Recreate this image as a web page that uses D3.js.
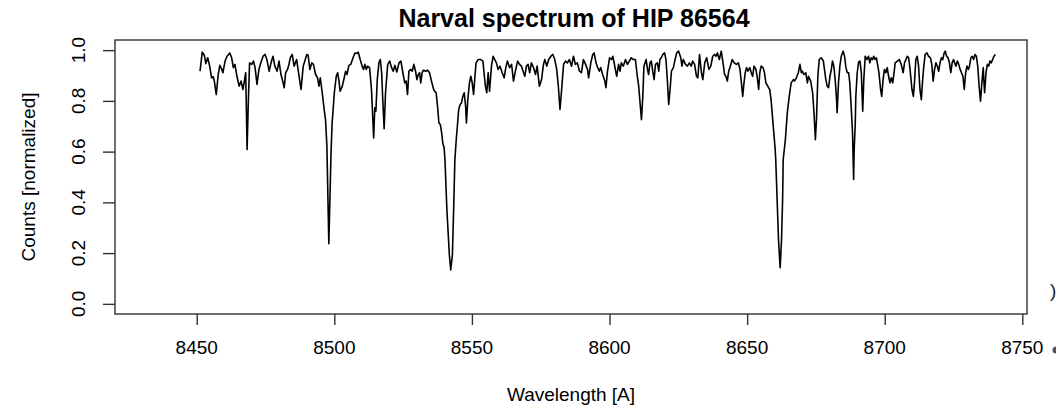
<!DOCTYPE html>
<html>
<head>
<meta charset="utf-8">
<script src="https://cdn.jsdelivr.net/npm/d3@7"></script>
<style>
  html, body { margin: 0; padding: 0; background: #fff; }
  svg text { font-family: "Liberation Sans", Arial, Helvetica, sans-serif; fill: #000; }
</style>
</head>
<body>
<div id="chart-container"></div>
<script>
/**************************************************
 * Spectrum data
 **************************************************/

const chartTitle = "Narval spectrum of HIP 86564";
const xLabel = "Wavelength [A]";
const yLabel = "Counts [normalized]";

const xTicks = [8450, 8500, 8550, 8600, 8650, 8700, 8750];
const yTicks = [0, 0.2, 0.4, 0.6, 0.8, 1.0];
const yTickLabels = ["0.0", "0.2", "0.4", "0.6", "0.8", "1.0"];

// wavelength in Angstrom
const wavelength = [
  8451.2, 8452.0, 8452.8, 8453.3, 8454.0, 8454.7, 8455.4, 8456.0, 8456.4, 8457.1,
  8457.8, 8458.4, 8459.1, 8459.5, 8460.3, 8461.0, 8462.0, 8462.7, 8463.3, 8463.9,
  8464.6, 8465.4, 8466.1, 8466.8, 8467.3, 8467.8, 8468.3, 8468.7, 8469.2, 8470.0,
  8470.6, 8471.2, 8471.9, 8472.6, 8473.3, 8474.1, 8474.8, 8475.5, 8476.3, 8477.0,
  8477.7, 8478.4, 8479.2, 8479.9, 8480.6, 8481.1, 8481.8, 8482.3, 8483.0, 8483.5,
  8484.0, 8484.7, 8485.4, 8486.3, 8487.9, 8488.7, 8490.0, 8490.5, 8491.1, 8491.8,
  8492.4, 8493.2, 8493.9, 8494.4, 8494.9, 8495.6, 8496.3, 8496.8, 8497.3, 8498.0,
  8498.8, 8499.2, 8500.0, 8500.7, 8501.2, 8501.7, 8502.1, 8502.9, 8503.6, 8504.1,
  8504.6, 8505.3, 8506.0, 8506.8, 8507.5, 8508.2, 8508.7, 8509.4, 8510.1, 8510.6,
  8511.1, 8511.6, 8512.1, 8512.8, 8513.5, 8514.3, 8514.7, 8515.1, 8515.6, 8516.2,
  8516.7, 8517.2, 8517.6, 8518.1, 8518.6, 8519.4, 8520.1, 8520.8, 8521.4, 8522.0,
  8522.7, 8523.5, 8524.2, 8524.9, 8525.6, 8526.1, 8526.6, 8527.1, 8527.8, 8528.3,
  8528.9, 8529.5, 8530.0, 8530.5, 8531.0, 8531.4, 8531.9, 8532.4, 8533.2, 8533.9,
  8534.6, 8535.3, 8536.1, 8536.5, 8537.0, 8537.5, 8538.0, 8538.5, 8539.0, 8539.4,
  8539.9, 8540.2, 8540.9, 8541.8, 8542.3, 8542.9, 8543.4, 8543.8, 8544.3, 8544.8,
  8545.2, 8545.7, 8546.2, 8546.7, 8547.2, 8547.7, 8548.0, 8548.5, 8549.1, 8549.6,
  8550.1, 8550.6, 8551.1, 8551.5, 8552.3, 8553.2, 8554.0, 8554.4, 8554.9, 8555.4,
  8555.9, 8556.4, 8557.1, 8557.7, 8558.3, 8558.9, 8559.5, 8560.2, 8561.0, 8561.7,
  8562.3, 8562.9, 8563.7, 8564.4, 8565.1, 8565.8, 8566.6, 8567.3, 8568.0, 8568.6,
  8569.2, 8569.8, 8570.4, 8571.0, 8571.6, 8572.4, 8573.1, 8573.7, 8574.5, 8575.3,
  8576.0, 8576.5, 8577.2, 8577.9, 8578.7, 8579.4, 8580.1, 8580.8, 8581.4, 8582.0,
  8582.6, 8583.3, 8584.0, 8584.7, 8585.4, 8586.2, 8586.9, 8587.6, 8588.3, 8589.1,
  8589.8, 8590.5, 8591.3, 8592.0, 8592.4, 8593.2, 8593.9, 8594.4, 8595.1, 8595.7,
  8596.3, 8596.8, 8597.5, 8598.3, 8598.7, 8599.2, 8600.0, 8600.7, 8601.2, 8601.9,
  8602.6, 8603.3, 8603.8, 8604.3, 8605.0, 8605.8, 8606.5, 8607.2, 8607.9, 8608.7,
  8609.4, 8610.1, 8610.6, 8611.2, 8611.6, 8612.1, 8612.5, 8613.3, 8613.8, 8614.2,
  8614.7, 8615.2, 8615.7, 8616.2, 8616.7, 8617.4, 8617.9, 8618.3, 8618.8, 8619.4,
  8620.0, 8620.5, 8621.0, 8621.5, 8622.0, 8622.5, 8623.2, 8623.7, 8624.4, 8625.1,
  8625.9, 8626.3, 8626.8, 8627.6, 8628.3, 8629.0, 8629.7, 8630.2, 8630.9, 8631.6,
  8632.1, 8632.7, 8633.4, 8633.9, 8634.6, 8635.3, 8636.1, 8636.8, 8637.5, 8638.2,
  8638.7, 8639.2, 8639.9, 8640.6, 8641.4, 8641.8, 8642.3, 8642.8, 8643.3, 8643.9,
  8644.6, 8645.3, 8646.1, 8646.8, 8647.4, 8647.8, 8648.4, 8648.8, 8649.3, 8649.8,
  8650.3, 8651.0, 8651.5, 8652.0, 8652.5, 8653.2, 8653.7, 8654.2, 8654.6, 8655.1,
  8655.8, 8656.3, 8656.8, 8657.5, 8658.2, 8658.7, 8659.2, 8659.7, 8660.2, 8660.4,
  8660.9, 8661.4, 8662.0, 8662.5, 8662.9, 8663.1, 8663.9, 8664.6, 8665.3, 8666.0,
  8666.8, 8667.2, 8667.9, 8668.6, 8669.2, 8669.7, 8670.1, 8670.6, 8671.3, 8671.9,
  8672.3, 8673.1, 8673.8, 8674.3, 8674.8, 8675.2, 8675.7, 8676.2, 8676.9, 8677.7,
  8678.1, 8678.6, 8679.1, 8679.6, 8680.1, 8680.6, 8681.0, 8681.5, 8682.0, 8682.5,
  8682.7, 8683.2, 8683.7, 8684.2, 8684.9, 8685.4, 8685.9, 8686.4, 8686.9, 8687.3,
  8687.8, 8688.3, 8688.7, 8688.9, 8689.3, 8689.5, 8690.0, 8690.5, 8691.0, 8691.5,
  8692.0, 8692.4, 8692.9, 8693.6, 8694.1, 8694.6, 8695.1, 8695.6, 8696.0, 8696.5,
  8697.0, 8697.5, 8697.9, 8698.5, 8698.9, 8699.4, 8699.9, 8700.4, 8700.9, 8701.4,
  8701.9, 8702.4, 8702.9, 8703.4, 8703.8, 8704.6, 8705.3, 8706.0, 8706.7, 8707.2,
  8708.2, 8708.7, 8709.2, 8709.9, 8710.4, 8710.8, 8711.3, 8711.8, 8712.3, 8712.8,
  8713.3, 8713.7, 8714.2, 8714.7, 8715.4, 8715.9, 8716.6, 8717.1, 8717.6, 8718.1,
  8718.6, 8719.1, 8719.6, 8720.1, 8720.6, 8721.1, 8721.6, 8722.0, 8722.5, 8723.0,
  8723.5, 8724.0, 8724.5, 8725.0, 8725.4, 8725.9, 8726.4, 8726.9, 8727.4, 8727.9,
  8728.4, 8728.9, 8729.4, 8729.9, 8730.4, 8730.8, 8731.3, 8731.8, 8732.3, 8732.8,
  8733.3, 8733.8, 8734.3, 8734.8, 8735.3, 8735.8, 8736.0, 8736.3, 8736.8, 8737.3,
  8737.8, 8738.2, 8738.7, 8739.2, 8739.7, 8740.2
];

// normalized counts, one per wavelength
const counts = [
  0.917, 0.992, 0.979, 0.947, 0.970, 0.937, 0.891, 0.895, 0.878, 0.825,
  0.904, 0.940, 0.924, 0.911, 0.957, 0.976, 0.989, 0.970, 0.931, 0.944,
  0.897, 0.858, 0.878, 0.845, 0.878, 0.911, 0.608, 0.779, 0.950, 0.944,
  0.957, 0.931, 0.865, 0.924, 0.950, 0.976, 0.983, 0.963, 0.917, 0.950,
  0.976, 0.937, 0.917, 0.957, 0.904, 0.884, 0.852, 0.911, 0.924, 0.944,
  0.970, 0.983, 0.937, 0.963, 0.845, 0.937, 0.983, 0.979, 0.924, 0.950,
  0.944, 0.904, 0.891, 0.858, 0.891, 0.832, 0.766, 0.726, 0.621, 0.237,
  0.596, 0.713, 0.832, 0.897, 0.911, 0.878, 0.838, 0.858, 0.891, 0.917,
  0.904, 0.940, 0.944, 0.970, 0.989, 0.987, 0.992, 0.963, 0.937, 0.924,
  0.944, 0.924, 0.937, 0.931, 0.845, 0.654, 0.773, 0.759, 0.884, 0.950,
  0.963, 0.911, 0.805, 0.690, 0.832, 0.944, 0.957, 0.931, 0.917, 0.940,
  0.914, 0.950, 0.957, 0.911, 0.871, 0.878, 0.825, 0.917, 0.924, 0.917,
  0.944, 0.917, 0.884, 0.904, 0.911, 0.871, 0.911, 0.921, 0.917, 0.921,
  0.911, 0.878, 0.845, 0.838, 0.832, 0.779, 0.713, 0.707, 0.674, 0.634,
  0.615, 0.568, 0.371, 0.193, 0.134, 0.193, 0.391, 0.568, 0.647, 0.713,
  0.766, 0.786, 0.792, 0.818, 0.832, 0.779, 0.713, 0.805, 0.871, 0.897,
  0.871, 0.825, 0.897, 0.950, 0.963, 0.963, 0.957, 0.911, 0.858, 0.832,
  0.911, 0.838, 0.937, 0.976, 0.963, 0.950, 0.924, 0.937, 0.911, 0.891,
  0.931, 0.957, 0.931, 0.944, 0.878, 0.917, 0.957, 0.944, 0.937, 0.917,
  0.897, 0.937, 0.944, 0.911, 0.950, 0.931, 0.904, 0.937, 0.858, 0.884,
  0.944, 0.963, 0.937, 0.963, 0.976, 0.983, 0.963, 0.924, 0.858, 0.766,
  0.845, 0.944, 0.957, 0.950, 0.963, 0.937, 0.976, 0.944, 0.950, 0.917,
  0.911, 0.963, 0.944, 0.924, 0.891, 0.950, 0.983, 0.989, 0.950, 0.931,
  0.917, 0.931, 0.904, 0.878, 0.852, 0.911, 0.970, 0.963, 0.976, 0.937,
  0.897, 0.944, 0.917, 0.950, 0.937, 0.963, 0.944, 0.957, 0.970, 0.963,
  0.963, 0.897, 0.858, 0.779, 0.726, 0.818, 0.937, 0.963, 0.924, 0.904,
  0.950, 0.957, 0.917, 0.884, 0.944, 0.950, 0.917, 0.963, 0.970, 0.983,
  0.989, 0.963, 0.884, 0.786, 0.845, 0.917, 0.931, 0.957, 0.989, 0.996,
  0.970, 0.937, 0.963, 0.944, 0.937, 0.950, 0.937, 0.957, 0.944, 0.897,
  0.891, 0.983, 0.911, 0.884, 0.950, 0.970, 0.924, 0.937, 0.976, 0.983,
  0.976, 0.989, 0.963, 0.996, 0.937, 0.904, 0.897, 0.878, 0.917, 0.937,
  0.963, 0.950, 0.944, 0.950, 0.924, 0.884, 0.818, 0.865, 0.911, 0.931,
  0.917, 0.931, 0.911, 0.897, 0.937, 0.924, 0.891, 0.845, 0.911, 0.937,
  0.931, 0.911, 0.871, 0.858, 0.845, 0.805, 0.739, 0.674, 0.608, 0.568,
  0.411, 0.253, 0.142, 0.253, 0.411, 0.568, 0.647, 0.753, 0.818, 0.871,
  0.884, 0.878, 0.891, 0.911, 0.944, 0.911, 0.917, 0.904, 0.911, 0.871,
  0.897, 0.878, 0.832, 0.753, 0.647, 0.726, 0.897, 0.963, 0.970, 0.957,
  0.924, 0.884, 0.858, 0.852, 0.897, 0.924, 0.957, 0.937, 0.884, 0.805,
  0.753, 0.871, 0.937, 0.976, 0.996, 0.976, 0.931, 0.911, 0.911, 0.871,
  0.779, 0.674, 0.490, 0.608, 0.713, 0.818, 0.911, 0.953, 0.957, 0.911,
  0.759, 0.884, 0.976, 0.963, 0.976, 0.950, 0.970, 0.963, 0.976, 0.963,
  0.970, 0.937, 0.911, 0.845, 0.818, 0.884, 0.924, 0.911, 0.931, 0.897,
  0.871, 0.891, 0.871, 0.911, 0.950, 0.957, 0.963, 0.944, 0.911, 0.950,
  0.976, 0.970, 0.924, 0.845, 0.818, 0.871, 0.963, 0.976, 0.937, 0.845,
  0.805, 0.871, 0.937, 0.983, 0.989, 0.976, 0.970, 0.944, 0.878, 0.924,
  0.950, 0.937, 0.917, 0.950, 0.970, 0.963, 0.989, 0.996, 0.976, 0.970,
  0.950, 0.911, 0.950, 0.963, 0.950, 0.937, 0.957, 0.944, 0.924, 0.911,
  0.897, 0.845, 0.911, 0.937, 0.924, 0.937, 0.970, 0.976, 0.963, 0.983,
  0.976, 0.937, 0.858, 0.799, 0.871, 0.931, 0.884, 0.832, 0.911, 0.944,
  0.937, 0.957, 0.950, 0.963, 0.976, 0.983
];

/**************************************************
 * Rendering
 **************************************************/

const width = 1064, height = 412;
const box = { left: 115, right: 1027, top: 40, bottom: 314 };

function renderSpectrum() {
  const svg = d3.select("#chart-container")
    .append("svg")
    .attr("width", width)
    .attr("height", height);

  const data = wavelength.map((w, i) => ({ w: w, c: counts[i] }));

  const xScale = d3.scaleLinear()
    .domain([8420.3, 8751.7])
    .range([box.left, box.right]);

  const yScale = d3.scaleLinear()
    .domain([-0.04, 1.04])
    .range([box.bottom, box.top]);

  // spectrum line
  const line = d3.line()
    .x(d => xScale(d.w))
    .y(d => yScale(d.c));

  svg.append("path")
    .datum(data)
    .attr("fill", "none")
    .attr("stroke", "#000")
    .attr("stroke-width", 1.6)
    .attr("stroke-linejoin", "round")
    .attr("d", line);

  // plot frame
  svg.append("rect")
    .attr("x", box.left)
    .attr("y", box.top)
    .attr("width", box.right - box.left)
    .attr("height", box.bottom - box.top)
    .attr("fill", "none")
    .attr("stroke", "#333")
    .attr("stroke-width", 1.4);

  // x axis (ticks only, labels placed by hand below)
  const xAxis = svg.append("g")
    .attr("transform", `translate(0,${box.bottom})`)
    .call(d3.axisBottom(xScale).tickValues(xTicks).tickSize(11).tickFormat(""));
  xAxis.select(".domain").remove();
  xAxis.selectAll(".tick line").attr("stroke", "#333").attr("stroke-width", 1.4);

  svg.append("g")
    .selectAll("text")
    .data(xTicks)
    .enter()
    .append("text")
    .attr("x", d => xScale(d))
    .attr("y", 354)
    .attr("text-anchor", "middle")
    .attr("font-size", "19px")
    .text(d => d);

  // y axis
  const yAxis = svg.append("g")
    .attr("transform", `translate(${box.left},0)`)
    .call(d3.axisLeft(yScale).tickValues(yTicks).tickSize(12).tickFormat(""));
  yAxis.select(".domain").remove();
  yAxis.selectAll(".tick line").attr("stroke", "#333").attr("stroke-width", 1.4);

  svg.append("g")
    .selectAll("text")
    .data(yTicks)
    .enter()
    .append("text")
    .attr("transform", d => `translate(85,${yScale(d)}) rotate(-90)`)
    .attr("text-anchor", "middle")
    .attr("font-size", "19px")
    .text((d, i) => yTickLabels[i]);

  // labels
  svg.append("text")
    .attr("x", 574)
    .attr("y", 27)
    .attr("text-anchor", "middle")
    .attr("font-size", "25px")
    .attr("font-weight", "bold")
    .text(chartTitle);

  svg.append("text")
    .attr("x", (box.left + box.right) / 2)
    .attr("y", 401)
    .attr("text-anchor", "middle")
    .attr("font-size", "19px")
    .text(xLabel);

  svg.append("text")
    .attr("transform", `translate(35,${(box.top + box.bottom) / 2}) rotate(-90)`)
    .attr("text-anchor", "middle")
    .attr("font-size", "19px")
    .text(yLabel);

  // clipped glyphs at the right window edge
  svg.append("text")
    .attr("x", 1050)
    .attr("y", 297)
    .attr("font-size", "19px")
    .style("fill", "#222")
    .text(")");

  svg.append("path")
    .attr("d", d3.arc()({ innerRadius: 0, outerRadius: 3.5, startAngle: Math.PI, endAngle: 2 * Math.PI }))
    .attr("transform", "translate(1056,350)")
    .attr("fill", "#555");
}

renderSpectrum();
</script>
</body>
</html>
